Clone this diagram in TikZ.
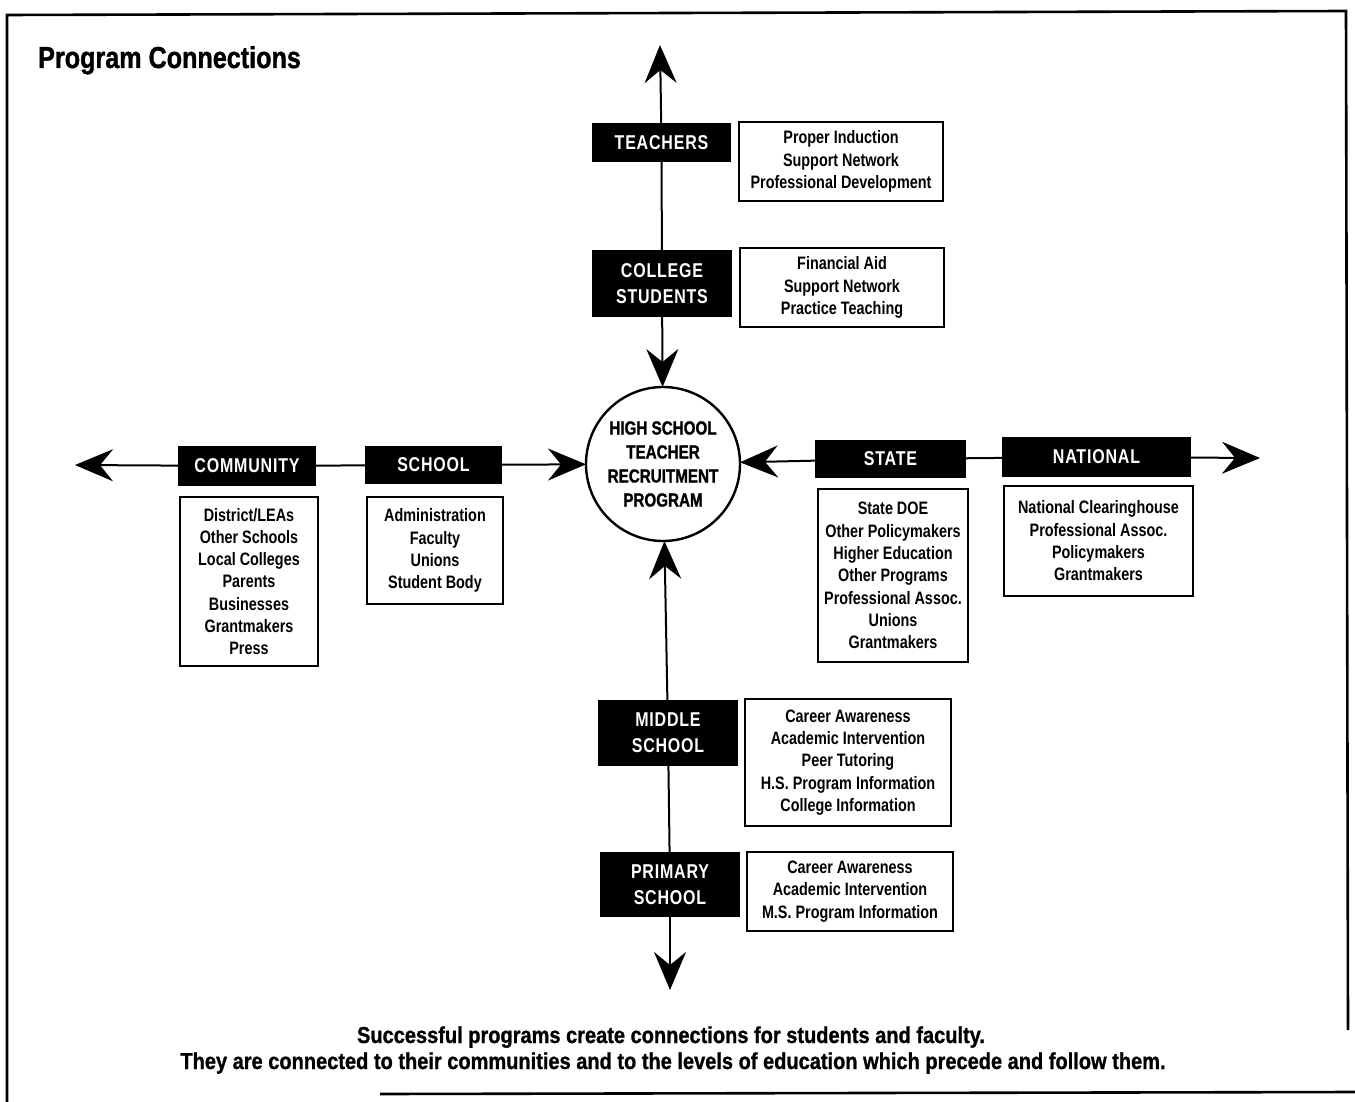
\documentclass[tikz,border=0pt]{standalone}
\usepackage{fontspec}
\setmainfont{Liberation Sans}
\newfontfamily\cf{Liberation Sans}[FakeStretch=0.8]
\newfontfamily\hf{Liberation Sans}[FakeStretch=0.8,FakeBold=1.2]
\newfontfamily\tf{Liberation Sans}[FakeStretch=0.83,FakeBold=1.2]
\newfontfamily\capf{Liberation Sans}[FakeStretch=0.87,FakeBold=1.0]
\newfontfamily\lf{Liberation Sans}[FakeStretch=0.8,LetterSpace=4]
\usetikzlibrary{arrows.meta}
\begin{document}
\begin{tikzpicture}[x=1pt,y=-1pt,
  lab/.style={fill=black, text=white, font=\lf\bfseries\fontsize{20}{26}\selectfont, align=center, inner sep=0pt, outer sep=0pt},
  desc/.style={draw, line width=1.6pt, font=\cf\bfseries\fontsize{18}{22.3}\selectfont, align=center, inner sep=0pt, outer sep=0pt},
  hubstyle/.style={circle, draw, line width=2.4pt, minimum size=154pt, inner sep=0pt, outer sep=0pt, align=center, font=\hf\bfseries\fontsize{19}{24}\selectfont},
  conn/.style={line width=2pt},
  arr/.style={-{Stealth[length=38pt,width=32pt,inset=13pt]}},
  frame/.style={line width=2.6pt},
  captext/.style={anchor=base, inner sep=0pt, font=\capf\bfseries\fontsize{23}{28}\selectfont}
]
\useasboundingbox (0,0) rectangle (1355,1102);
% frame
\draw[frame] (7,1102) -- (7,15) -- (1346,11) -- (1348,1030);
\draw[frame] (380,1094) -- (1355,1092);

% title
\node[anchor=base west, font=\tf\bfseries\fontsize{30.3}{36}\selectfont, inner sep=0pt] (title) at (38,68) {Program Connections};

% hub
\node[hubstyle] (hub) at (663,464) {HIGH SCHOOL\\TEACHER\\RECRUITMENT\\PROGRAM};

% top branch
\node[lab, minimum width=139pt, minimum height=39pt] (teachers) at (661.5,142.5) {TEACHERS};
\node[desc, minimum width=204pt, minimum height=79pt] (tdesc) at (841,161.5) {Proper Induction\\Support Network\\Professional Development};
\node[lab, minimum width=140pt, minimum height=67pt] (college) at (662,283.5) {COLLEGE\\STUDENTS};
\node[desc, minimum width=204pt, minimum height=79pt] (cdesc) at (842,287.5) {Financial Aid\\Support Network\\Practice Teaching};
\coordinate (toptip) at (660,45);

% left branch
\node[lab, minimum width=138pt, minimum height=40pt] (community) at (247,466) {COMMUNITY};
\node[desc, minimum width=138pt, minimum height=169pt] (comdesc) at (249,581.5) {District/LEAs\\Other Schools\\Local Colleges\\Parents\\Businesses\\Grantmakers\\Press};
\node[lab, minimum width=137pt, minimum height=38pt] (school) at (433.5,465) {SCHOOL};
\node[desc, minimum width=136pt, minimum height=107pt] (schdesc) at (435,550.5) {Administration\\Faculty\\Unions\\Student Body};
\coordinate (lefttip) at (75,465);

% right branch
\node[lab, minimum width=151pt, minimum height=38pt] (state) at (890.5,459) {STATE};
\node[desc, minimum width=150pt, minimum height=173pt] (stdesc) at (893,575.5) {State DOE\\Other Policymakers\\Higher Education\\Other Programs\\Professional Assoc.\\Unions\\Grantmakers};
\node[lab, minimum width=189pt, minimum height=40pt] (national) at (1096.5,457) {NATIONAL};
\node[desc, minimum width=189pt, minimum height=110pt] (natdesc) at (1098.5,541) {National Clearinghouse\\Professional Assoc.\\Policymakers\\Grantmakers};
\coordinate (righttip) at (1260,458);

% bottom branch
\node[lab, minimum width=140pt, minimum height=66pt] (middle) at (668,733) {MIDDLE\\SCHOOL};
\node[desc, minimum width=206pt, minimum height=127pt] (middesc) at (848,762.5) {Career Awareness\\Academic Intervention\\Peer Tutoring\\H.S. Program Information\\College Information};
\node[lab, minimum width=140pt, minimum height=65pt] (primary) at (670,884.5) {PRIMARY\\SCHOOL};
\node[desc, minimum width=206pt, minimum height=79pt] (pridesc) at (850,891.5) {Career Awareness\\Academic Intervention\\M.S. Program Information};
\coordinate (bottomtip) at (670,990);

% connectors
\draw[conn,arr] (teachers) -- (toptip);
\draw[conn] (teachers) -- (college);
\draw[conn,arr] (college) -- (hub);
\draw[conn,arr] (community) -- (lefttip);
\draw[conn] (community) -- (school);
\draw[conn,arr] (school) -- (hub);
\draw[conn,arr] (state) -- (hub);
\draw[conn] (state) -- (national);
\draw[conn,arr] (national) -- (righttip);
\draw[conn,arr] (middle) -- (hub);
\draw[conn] (middle) -- (primary);
\draw[conn,arr] (primary) -- (bottomtip);

% caption
\node[captext] (cap1) at (671,1043) {Successful programs create connections for students and faculty.};
\node[captext] (cap2) at (673,1069) {They are connected to their communities and to the levels of education which precede and follow them.};
\end{tikzpicture}
\end{document}
